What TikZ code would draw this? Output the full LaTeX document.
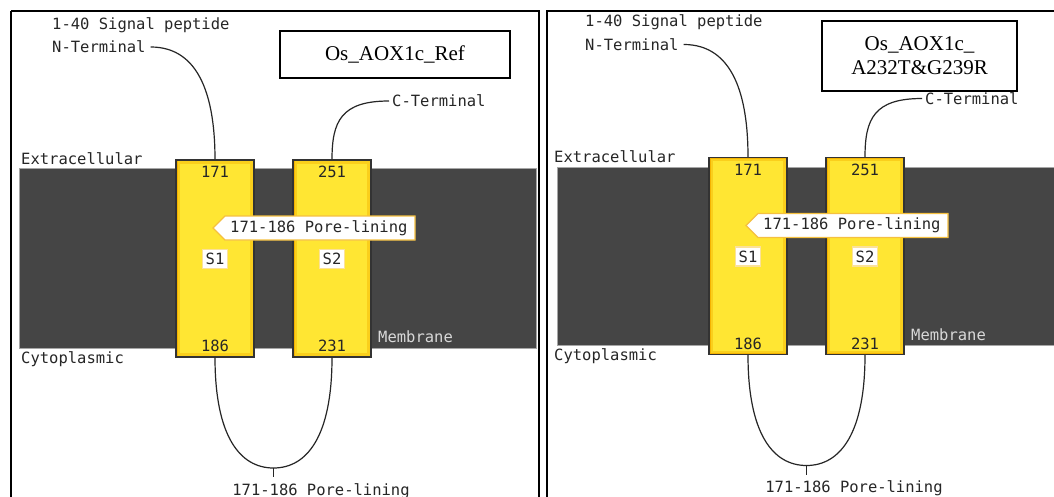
\documentclass[tikz,border=0pt]{standalone}
\usepackage{fontspec}
\newfontfamily\monofont{DejaVu Sans Mono}
\newfontfamily\serifont{Liberation Serif}
\definecolor{membr}{HTML}{454545}
\definecolor{helixfill}{HTML}{FFE633}
\definecolor{helixedge}{HTML}{F5B300}
\definecolor{calloutedge}{HTML}{F5C040}
\definecolor{membtext}{HTML}{D8D8D8}
\newcommand{\panelbody}[1]{%
  % helices
  \node[helix] (#1h1) at (215,258.5) {};
  \node[helix] (#1h2) at (332,258.5) {};
  \node[num] at (215,172) {171};
  \node[num] at (332,172) {251};
  \node[num] at (215,346) {186};
  \node[num] at (332,346) {231};
  \node[slabel] (#1s1) at (215,259) {S1};
  \node[slabel] (#1s2) at (332,259) {S2};
  % callout
  \draw[callout] (213,228) -- (225,216) -- (415,216) -- (415,240) -- (225,240) -- cycle;
  \node[lbl] (#1pl) at (230,228) {171-186 Pore-lining};
  % labels
  \node[lbl] (#1sig) at (52,25) {1-40 Signal peptide};
  \node[lbl] (#1nterm) at (52,47) {N-Terminal};
  \node[lbl] (#1cterm) at (392,101) {C-Terminal};
  \node[lbl] (#1extra) at (21,159) {Extracellular};
  \node[lbl] (#1cyto) at (21,359) {Cytoplasmic};
  \node[lbl, text=membtext] (#1memb) at (378,337) {Membrane};
  \node[lbl, anchor=north] (#1bl) at (321,483) {171-186 Pore-lining};
  \coordinate (#1bot) at (273.5,468);
  % connectors
  \draw[conn] ([xshift=5pt]#1nterm.east) .. controls +(50,0) and +(0,-60) .. (#1h1.north);
  \draw[conn] ([xshift=-3pt]#1cterm.west) .. controls +(-48,0) and +(0,-38) .. (#1h2.north);
  \draw[conn] (#1h1.south) .. controls +(0,78) and +(-34,0) .. (#1bot)
              .. controls +(34,0) and +(0,78) .. (#1h2.south);
  \draw[conn] (#1bot) -- ([yshift=-9pt]#1bot);
}
\begin{document}
\begin{tikzpicture}[x=1pt,y=-1pt,
  lbl/.style={font=\monofont\fontsize{15.5}{16}\selectfont, inner sep=0pt, anchor=west, text=black!85},
  num/.style={font=\monofont\fontsize{15.5}{16}\selectfont, inner sep=0pt, text=black!85},
  helix/.style={rectangle, draw=black!80, line width=1.1pt, fill=helixfill,
     minimum width=78pt, minimum height=197pt, inner sep=0pt,
     path picture={\draw[helixedge, opacity=0.45, line width=8pt] (path picture bounding box.south west) rectangle (path picture bounding box.north east);
                   \draw[helixedge, line width=3pt] (path picture bounding box.south west) rectangle (path picture bounding box.north east);}},
  slabel/.style={fill=white, draw=helixedge!40, line width=1.5pt, inner sep=2pt,
     minimum width=25pt, minimum height=19pt,
     font=\monofont\fontsize{15.5}{16}\selectfont, text=black!85},
  callout/.style={fill=white, draw=calloutedge, line width=1.3pt},
  conn/.style={draw=black!85, line width=1.2pt},
  membrane/.style={fill=membr, draw=gray!70, line width=0.6pt},
  frame/.style={draw=black, line width=1.6pt},
  titlebox/.style={draw=black, line width=1.1pt, fill=white, inner sep=0pt,
     font=\serifont\fontsize{21}{24}\selectfont, align=center}
]
\useasboundingbox (0,0) rectangle (1054,497);
\clip (0,0) rectangle (1054,497);
\fill[white] (0,0) rectangle (1054,497);
% panel frames
\draw[frame] (11,11) -- (539,11) -- (539,510);
\draw[frame] (11,510) -- (11,11);
\draw[frame] (547,510) -- (547,11) -- (1070,11);
% membranes
\draw[membrane] (19,168) rectangle (536,348);
\draw[membrane] (557,167) rectangle (1070,345);
% left panel
\panelbody{L}
% right panel
\begin{scope}[shift={(533,-2.5)}]
\panelbody{R}
\end{scope}
% titles
\node[titlebox, minimum width=230pt, minimum height=47pt] (tl) at (395,54.5) {Os\_AOX1c\_Ref};
\node[titlebox, minimum width=195pt, minimum height=70pt] (tr) at (919.5,56) {Os\_AOX1c\_\\A232T\&G239R};
\end{tikzpicture}
\end{document}
